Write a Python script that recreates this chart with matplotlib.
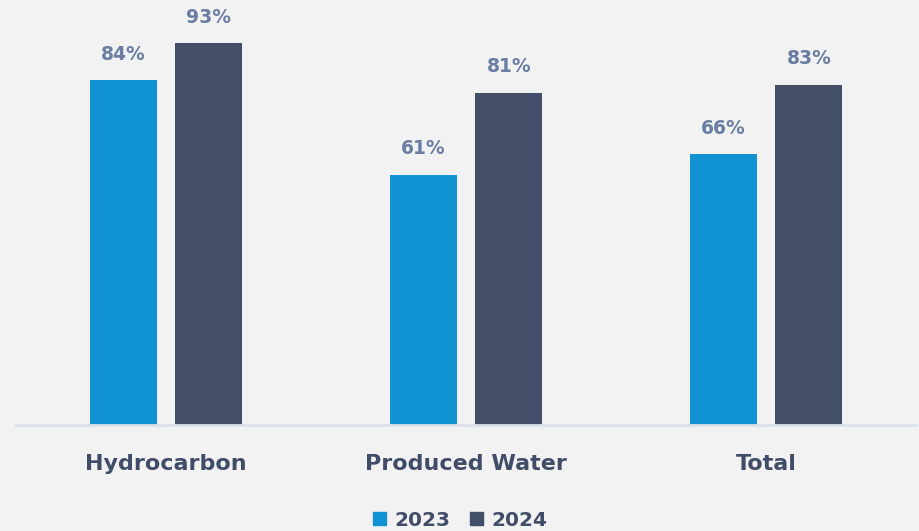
import matplotlib
matplotlib.use("Agg")
import matplotlib.pyplot as plt
import numpy as np
from matplotlib.patches import Patch

categories = ["Hydrocarbon", "Produced Water", "Total"]
series_names = ["2023", "2024"]
values_2023 = [84, 61, 66]
values_2024 = [93, 81, 83]

c2023 = "#1193d3"
c2024 = "#434f69"
bg = "#f2f2f2"
label_color = "#6a7ea3"
cat_color = "#414d68"

fig = plt.figure(figsize=(9.2, 5.31), dpi=100, facecolor=bg)
ax = fig.add_axes([16/920, 106/531, 900/920, 425/531], facecolor=bg)

x = np.arange(len(categories))
w = 0.223
off = 0.143
b1 = ax.bar(x - off, values_2023, w, color=c2023)
b2 = ax.bar(x + off, values_2024, w, color=c2024)

for bars, vals in ((b1, values_2023), (b2, values_2024)):
    for rect, v in zip(bars, vals):
        ax.annotate(f"{v}%", (rect.get_x() + rect.get_width()/2, v),
                    xytext=(0, 12), textcoords="offset points",
                    ha="center", va="bottom", fontsize=13.5, fontweight="bold",
                    color=label_color, family="DejaVu Sans")

ax.set_xlim(-0.5, 2.5)
ax.set_ylim(0, 103.6)
for s in ["top", "right", "left"]:
    ax.spines[s].set_visible(False)
ax.spines["bottom"].set_color("#dce1ea")
ax.spines["bottom"].set_linewidth(2)
ax.set_yticks([])
ax.set_xticks(x)
ax.set_xticklabels(categories, fontsize=16, fontweight="bold", color=cat_color, family="DejaVu Sans")
ax.tick_params(axis="x", length=0, pad=21)

handles = [Patch(color=c2023, label=series_names[0]), Patch(color=c2024, label=series_names[1])]
leg = fig.legend(handles=handles, loc="center", bbox_to_anchor=(0.5, 1 - 520/531), ncol=2,
                 frameon=False, handlelength=0.65, handleheight=0.65, handletextpad=0.4,
                 columnspacing=1.0, prop={"size": 14.5, "weight": "bold", "family": "DejaVu Sans"})
for t in leg.get_texts():
    t.set_color(cat_color)

fig.savefig("out.png", dpi=100, facecolor=bg)
